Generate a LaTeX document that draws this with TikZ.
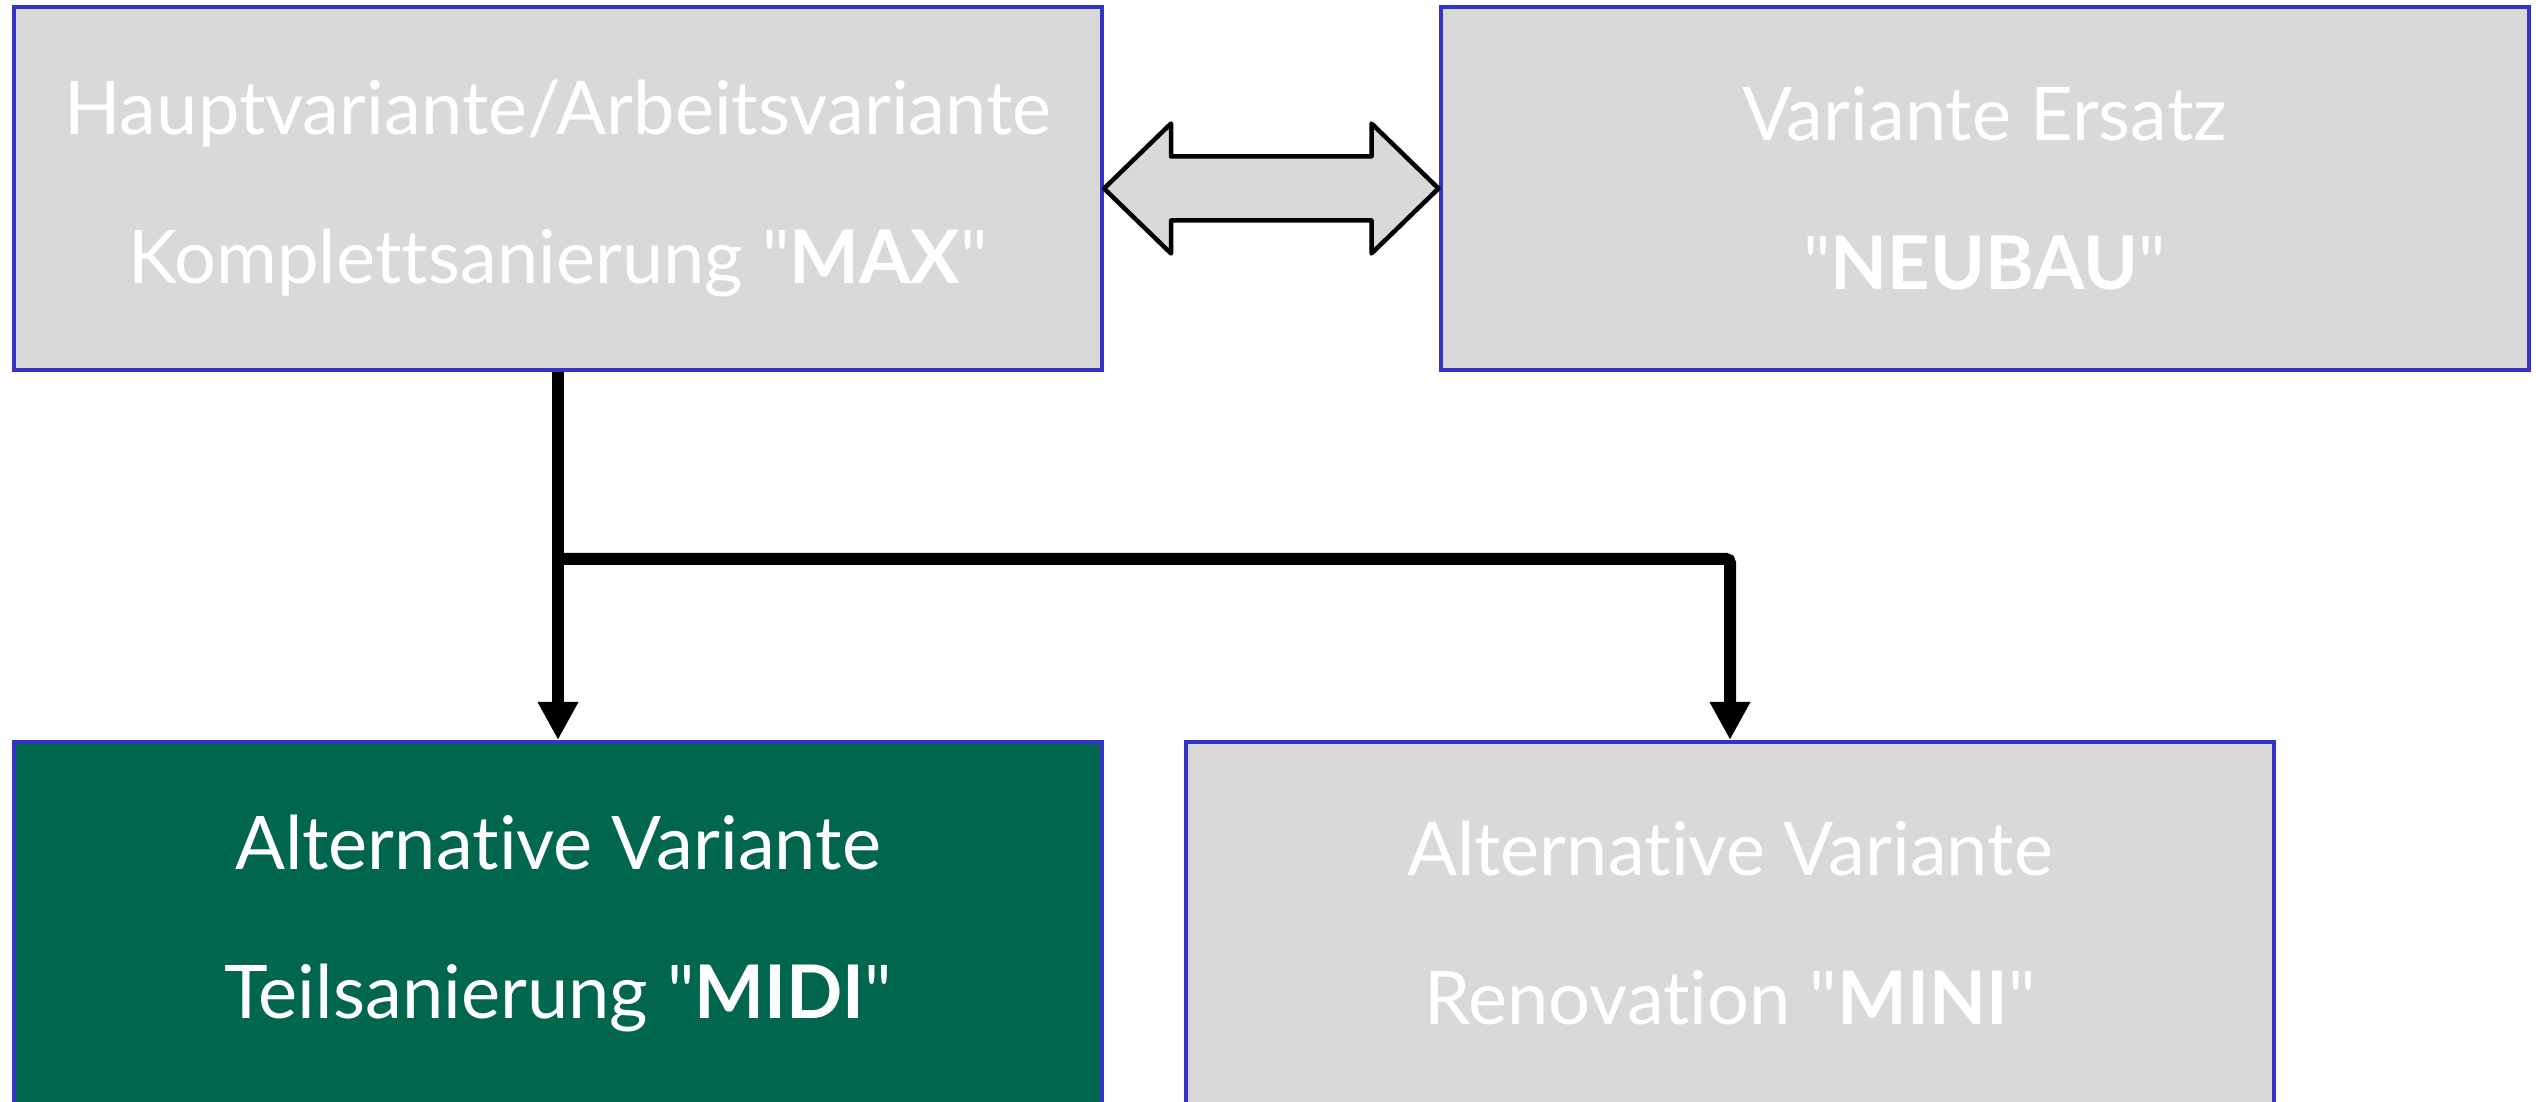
\documentclass[tikz,border=0pt]{standalone}
\usepackage{fontspec}
\setmainfont{Lato}[Ligatures={TeXOff,CommonOff}]
\usetikzlibrary{arrows.meta,positioning,calc}
\definecolor{boxgray}{RGB}{217,217,217}
\definecolor{boxblue}{RGB}{52,52,200}
\definecolor{midigreen}{RGB}{0,102,78}
\tikzset{
  variant/.style={rectangle, draw=boxblue, line width=4pt, fill=boxgray, text=white,
    minimum width=1088pt, minimum height=363pt, inner sep=0pt, align=center,
    font=\fontsize{74pt}{149pt}\selectfont},
  chosen/.style={variant, fill=midigreen},
  flow/.style={line width=12pt, -{Triangle[width=38pt,length=38pt]}},
  dblarrow/.style={draw=black, line width=4.5pt, fill=boxgray, line join=round}
}
\begin{document}
\begin{tikzpicture}[node distance=3cm,on grid]
   \useasboundingbox (0,0) rectangle (2536pt,1102pt);
   \node[variant] (max) at (558pt,913.5pt) {Hauptvariante/Arbeitsvariante\\Komplettsanierung "\textbf{MAX}"};
   \node[variant] (neubau) [right=1426.5pt of max] {Variante Ersatz\\"\textbf{NEUBAU}"};
   \node[chosen] (midi) [below=735pt of max] {Alternative Variante\\Teilsanierung "\textbf{MIDI}"};
   \node[variant] (mini) [right=1172pt of midi] {Alternative Variante\\Renovation "\textbf{MINI}"};
   \coordinate (split) at ([yshift=-187pt]max.south);
   \draw[flow] (max.south) -- (midi.north);
   \draw[flow, rounded corners=4pt] (split) -| (mini.north);
   \draw[dblarrow] (max.east) -- ++(67pt,65pt) -- ++(0,-33pt)
      -- ($(neubau.west)+(-67pt,32pt)$) -- ++(0,33pt) -- (neubau.west)
      -- ++(-67pt,-65pt) -- ++(0,33pt) -- ($(max.east)+(67pt,-32pt)$)
      -- ++(0,-33pt) -- cycle;
\end{tikzpicture}
\end{document}
